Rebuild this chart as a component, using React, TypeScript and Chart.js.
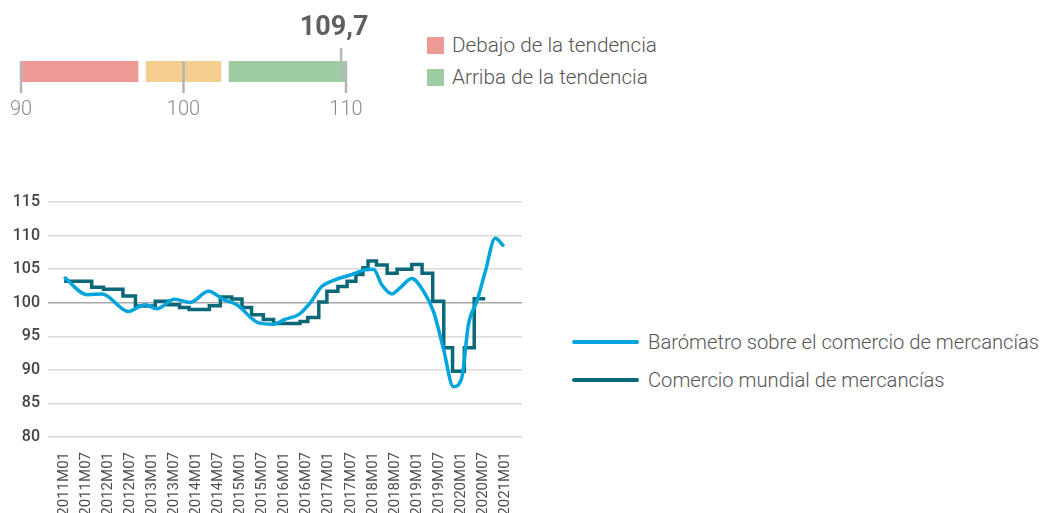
import React, { useEffect, useRef } from "react";
import { Chart, registerables } from "chart.js";

Chart.register(...registerables);
Chart.defaults.font.family = "Roboto";

// ---------- Gauge data ----------
const gaugeRanges: [number, number][] = [
  [90, 97.2],
  [97.7, 102.3],
  [102.8, 110],
];
const gaugeColors = ["#ed9995", "#f3ce8e", "#9ecda4"];
const gaugeTicks = [90, 100, 110];
const gaugeValue = 109.7;
const gaugeValueLabel = "109,7";

const topLegendLabels = ["Debajo de la tendencia", "Arriba de la tendencia"];
const topLegendColors = ["#ed9995", "#9ecda4"];

// ---------- Line chart data (x = months since 2011M01) ----------
const barometerMonths = [0, 6.2, 10.3, 17.5, 22, 25.2, 30, 34.3, 39.3, 43.4, 47, 52.9, 57, 60, 64, 67, 70.1, 73.7, 78.3, 81.9, 84.2, 86.4, 89.2, 91.4, 94.6, 97.8, 100.5, 103.2, 105.9, 108.2, 110, 112.3, 114.6, 117.3, 119.7];
const barometerValues = [103.8, 101.2, 101.3, 98.7, 99.7, 99.1, 100.5, 100.05, 101.7, 100.45, 99.7, 97.0, 96.8, 97.5, 98.3, 100.0, 102.4, 103.4, 104.2, 104.9, 105.0, 102.7, 101.3, 102.2, 103.6, 101.7, 98.7, 93.2, 87.5, 88.8, 96.7, 100.2, 104.6, 109.6, 108.4];

const tradeMonths = [0, 7.5, 10.7, 16, 19.4, 24.8, 28.2, 31.4, 34, 39.5, 42.5, 45.6, 48.4, 51, 54.2, 57, 64.2, 66.3, 69.3, 71.5, 74.5, 77, 79.4, 81.3, 82.7, 85, 87.9, 90.6, 94.6, 97.4, 100.3, 103.3, 105.7, 108.9, 111.6, 114.6];
const tradeValues = [103.2, 102.3, 102.0, 101.0, 99.5, 100.2, 99.7, 99.3, 99.0, 99.55, 100.85, 100.55, 99.3, 98.2, 97.5, 96.9, 97.2, 97.8, 100.1, 101.7, 102.4, 103.2, 104.2, 105.2, 106.2, 105.6, 104.4, 105.0, 105.7, 104.4, 100.2, 93.3, 89.8, 93.3, 100.6, 100.6];

const xTickMonths = [0, 6, 12, 18, 24, 30, 36, 42, 48, 54, 60, 66, 72, 78, 84, 90, 96, 102, 108, 114, 120];
const xTickLabels = [
  "2011M01", "2011M07", "2012M01", "2012M07", "2013M01", "2013M07", "2014M01",
  "2014M07", "2015M01", "2015M07", "2016M01", "2016M07", "2017M01", "2017M07",
  "2018M01", "2018M07", "2019M01", "2019M07", "2020M01", "2020M07", "2021M01",
];
const yMin = 80;
const yMax = 115;
const yStep = 5;

const seriesLabels = ["Barómetro sobre el comercio de mercancías", "Comercio mundial de mercancías"];
const seriesColors = ["#00a5de", "#0b6878"];

function Gauge() {
  const ref = useRef<HTMLCanvasElement | null>(null);
  useEffect(() => {
    if (!ref.current) return;
    const overlay = {
      id: "gaugeOverlay",
      afterDatasetsDraw(chart: any) {
        const ctx = chart.ctx;
        const xs = chart.scales.x;
        const area = chart.chartArea;
        ctx.save();
        ctx.strokeStyle = "#b5b5b5";
        ctx.lineWidth = 2.5;
        gaugeTicks.forEach((v) => {
          const px = xs.getPixelForValue(v);
          ctx.beginPath();
          ctx.moveTo(px, area.top);
          ctx.lineTo(px, area.bottom + 11);
          ctx.stroke();
        });
        ctx.fillStyle = "#8a8a8a";
        ctx.font = "300 20px Roboto";
        ctx.textAlign = "center";
        ctx.textBaseline = "middle";
        gaugeTicks.forEach((v) => {
          const px = xs.getPixelForValue(v);
          ctx.fillText(String(v), px, area.bottom + 28);
        });
        const mx = xs.getPixelForValue(gaugeValue);
        ctx.strokeStyle = "#b8b8b8";
        ctx.beginPath();
        ctx.moveTo(mx, area.top - 13);
        ctx.lineTo(mx, area.bottom - 2);
        ctx.stroke();
        ctx.fillStyle = "#5f5f5f";
        ctx.font = "bold 27px Roboto";
        ctx.textBaseline = "alphabetic";
        ctx.fillText(gaugeValueLabel, mx - 7, area.top - 26);
        ctx.restore();
      },
    };
    const chart = new Chart(ref.current, {
      type: "bar",
      data: {
        labels: ["g"],
        datasets: gaugeRanges.map((r, i) => ({
          data: [r as any],
          backgroundColor: gaugeColors[i],
          borderWidth: 0,
          barPercentage: 1,
          categoryPercentage: 1,
          grouped: false,
        })),
      },
      options: {
        indexAxis: "y",
        animation: false,
        responsive: false,
        events: [],
        layout: { padding: { left: 21, right: 74, top: 61, bottom: 43 } },
        plugins: { legend: { display: false }, tooltip: { enabled: false } },
        scales: {
          x: { type: "linear", min: 90, max: 110, display: false },
          y: { display: false },
        },
      },
      plugins: [overlay],
    } as any);
    return () => chart.destroy();
  }, []);
  return (
    <canvas
      ref={ref}
      width={420}
      height={125}
      style={{ position: "absolute", left: 0, top: 0, width: 420, height: 125 }}
    />
  );
}

function LineChart() {
  const ref = useRef<HTMLCanvasElement | null>(null);
  useEffect(() => {
    if (!ref.current) return;
    const chart = new Chart(ref.current, {
      type: "line",
      data: {
        datasets: [
          {
            label: seriesLabels[0],
            data: barometerMonths.map((m, i) => ({ x: m, y: barometerValues[i] })),
            borderColor: seriesColors[0],
            borderWidth: 3.5,
            pointRadius: 0,
            cubicInterpolationMode: "monotone",
            fill: false,
          },
          {
            label: seriesLabels[1],
            data: tradeMonths.map((m, i) => ({ x: m, y: tradeValues[i] })),
            borderColor: seriesColors[1],
            borderWidth: 3.5,
            pointRadius: 0,
            stepped: true,
            fill: false,
          },
        ],
      },
      options: {
        animation: false,
        responsive: false,
        events: [],
        layout: { padding: { top: 22, right: 18, left: 0, bottom: 0 } },
        plugins: { legend: { display: false }, tooltip: { enabled: false } },
        scales: {
          x: {
            type: "linear",
            min: -4.4,
            max: 124.6,
            grid: { display: false, drawTicks: false },
            border: { display: false },
            afterBuildTicks: (scale: any) => {
              scale.ticks = xTickMonths.map((v) => ({ value: v }));
            },
            afterFit: (scale: any) => {
              scale.height = 76;
            },
            ticks: {
              autoSkip: false,
              minRotation: 90,
              maxRotation: 90,
              padding: 15,
              color: "#4f4f4f",
              font: { size: 15, family: "Roboto" },
              callback: (_v: any, i: number) => xTickLabels[i],
            },
          },
          y: {
            min: yMin,
            max: yMax,
            border: { display: false },
            grid: {
              drawTicks: false,
              lineWidth: 1.5,
              color: (c: any) => (c.tick && c.tick.value === 100 ? "#a9a9a9" : "#dcdcdc"),
            },
            afterFit: (scale: any) => {
              scale.width = 48;
            },
            ticks: {
              stepSize: yStep,
              padding: 8,
              color: "#444444",
              font: { size: 16, weight: "500", family: "Roboto" },
            },
          },
        },
      },
    } as any);
    return () => chart.destroy();
  }, []);
  return (
    <canvas
      ref={ref}
      width={540}
      height={333}
      style={{ position: "absolute", left: 0, top: 180, width: 540, height: 333 }}
    />
  );
}

export default function App() {
  const textStyle: React.CSSProperties = {
    fontFamily: "Roboto",
    fontWeight: 300,
    color: "#555555",
    whiteSpace: "nowrap",
  };
  return (
    <div
      style={{
        position: "absolute",
        left: 0,
        top: 0,
        width: 1044,
        height: 513,
        overflow: "hidden",
        background: "#ffffff",
      }}
    >
      <Gauge />
      {topLegendLabels.map((l, i) => (
        <div
          key={l}
          style={{
            position: "absolute",
            left: 427,
            top: 30 + i * 32,
            height: 30,
            display: "flex",
            alignItems: "center",
          }}
        >
          <div style={{ width: 17, height: 17, background: topLegendColors[i], marginRight: 8 }} />
          <span style={{ ...textStyle, fontSize: 20.7 }}>{l}</span>
        </div>
      ))}
      <LineChart />
      {seriesLabels.map((l, i) => (
        <div
          key={l}
          style={{
            position: "absolute",
            left: 572,
            top: 327 + i * 37.5,
            height: 30,
            display: "flex",
            alignItems: "center",
          }}
        >
          <div style={{ width: 67, height: 4, background: seriesColors[i], marginRight: 9, borderRadius: 2 }} />
          <span style={{ ...textStyle, fontSize: 20.2 }}>{l}</span>
        </div>
      ))}
    </div>
  );
}
